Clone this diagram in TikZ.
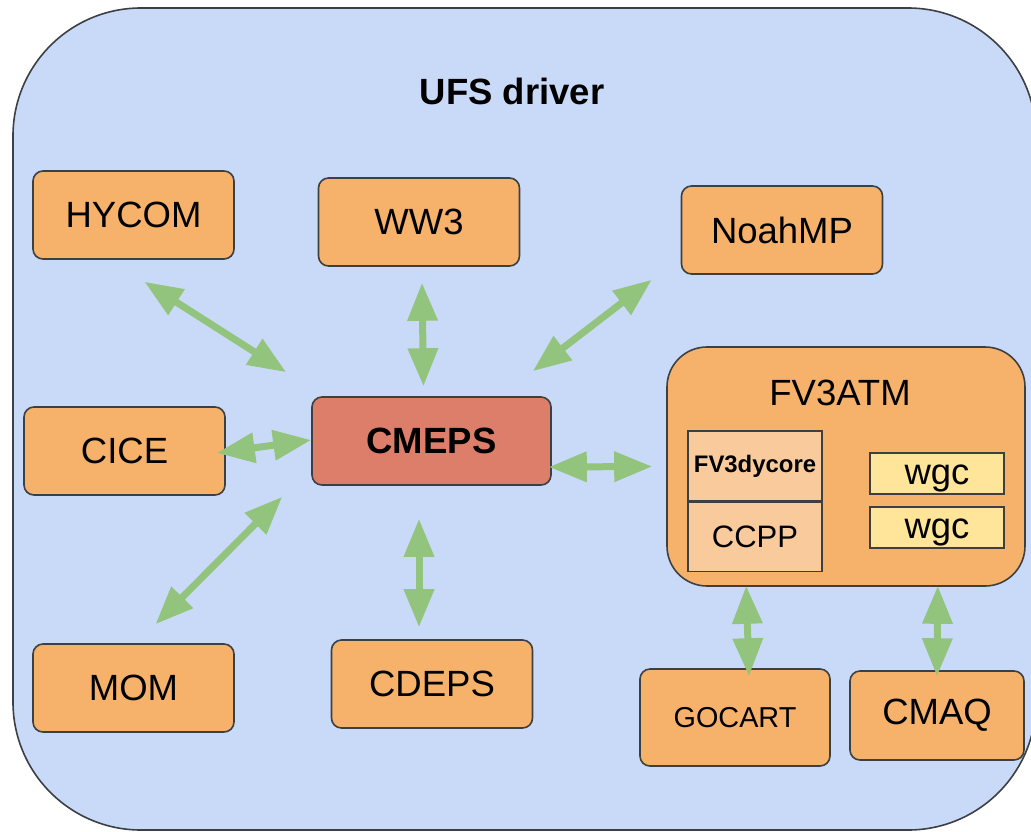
\documentclass[tikz,border=0pt]{standalone}
\usepackage{fontspec}
\setmainfont{Liberation Sans}
\usepackage{xcolor}
\usepackage{tikz}
\usetikzlibrary{arrows.meta, positioning}

\definecolor{driverblue}{HTML}{C9DAF8}
\definecolor{modelorange}{HTML}{F6B26B}
\definecolor{mediatorred}{HTML}{DD7E6B}
\definecolor{innerorange}{HTML}{F9CB9C}
\definecolor{wgcyellow}{HTML}{FFE599}
\definecolor{linkgreen}{HTML}{93C47D}
\definecolor{edgegrey}{HTML}{3C4043}

\tikzset{
	model/.style={draw=edgegrey, fill=modelorange, line width=1.6pt, rounded corners=10pt,
		inner sep=0pt, minimum width=201pt, minimum height=88pt,
		font=\fontsize{36.5}{40}\selectfont},
	part/.style={draw=edgegrey, fill=innerorange, line width=1.6pt, inner sep=0pt,
		minimum width=134pt, minimum height=70pt},
	wgcbox/.style={draw=edgegrey, fill=wgcyellow, line width=1.6pt, inner sep=0pt,
		minimum width=134pt, minimum height=41pt, text height=21pt, text depth=0pt,
		font=\fontsize{36.5}{40}\selectfont},
	link/.style={draw=linkgreen, line width=7pt,
		{Triangle[length=38pt, width=29pt]}-{Triangle[length=38pt, width=29pt]}},
}

\begin{document}
\begin{tikzpicture}[x=1pt, y=-1pt]
	\useasboundingbox (0, 0) rectangle (1031, 831);
	\clip (0, 0) rectangle (1031, 831);
	% Driver box:
	\draw[draw=edgegrey, fill=driverblue, line width=1.6pt, rounded corners=128pt] (13, 8) rectangle (1036, 830);
	\node[font=\bfseries\fontsize{36.5}{40}\selectfont](driver) at (512, 91){UFS driver};
	% Components:
	\node[model](hycom) at (133.5, 215){HYCOM};
	\node[model](ww3) at (419, 222){WW3};
	\node[model](noahmp) at (782, 230){NoahMP};
	\node[model](cice) at (124.5, 451){CICE};
	\node[model, fill=mediatorred, minimum width=239pt, font=\bfseries\fontsize{36.5}{40}\selectfont](cmeps) at (431.5, 441){CMEPS};
	\node[model](mom) at (133.5, 688){MOM};
	\node[model](cdeps) at (432, 684){CDEPS};
	\node[model, minimum width=190pt, minimum height=97pt, font=\fontsize{28.8}{32}\selectfont](gocart) at (735, 717.5){GOCART};
	\node[model, minimum width=174pt, minimum height=89pt](cmaq) at (937, 715.5){CMAQ};
	% FV3ATM and its parts:
	\node[model, rounded corners=40pt, minimum width=358pt, minimum height=239pt](fv3atm) at (846, 466.5){};
	\node[font=\fontsize{36.5}{40}\selectfont](fv3title) at (840, 393){FV3ATM};
	\node[part, font=\bfseries\fontsize{23.9}{26}\selectfont](dycore) at (755, 466){FV3dycore};
	\node[part, minimum height=69pt, font=\fontsize{31}{34}\selectfont, below=0pt of dycore](ccpp){CCPP};
	\node[wgcbox](wgc1) at (937, 473.5){wgc};
	\node[wgcbox](wgc2) at (937, 527.5){wgc};
	% Arrows:
	\draw[link] ([shift={(11, 22)}]hycom.south) -- ([shift={(-25, -24)}]cmeps.north west);
	\draw[link] ([shift={(3, 16)}]ww3.south) -- ([shift={(-8, -10)}]cmeps.north);
	\draw[link] ([shift={(-29, 5)}]noahmp.south west) -- ([shift={(-19, -25)}]cmeps.north east);
	\draw[link] ([shift={(-9, 2)}]cice.east) -- ([shift={(0, -1)}]cmeps.west);
	\draw[link] ([shift={(22, -19)}]mom.north) -- ([shift={(-29, 11)}]cmeps.south west);
	\draw[link] ([shift={(-13, -12)}]cdeps.north) -- ([shift={(-12.5, 33)}]cmeps.south);
	\draw[link] ([shift={(-3, 26)}]cmeps.east) -- ([shift={(-14, 0)}]fv3atm.west);
	\draw[link] ([shift={(80, -1)}]fv3atm.south west) -- ([shift={(14, 8)}]gocart.north);
	\draw[link] ([shift={(-88, -1)}]fv3atm.south east) -- ([shift={(0, 6)}]cmaq.north);
\end{tikzpicture}
\end{document}
